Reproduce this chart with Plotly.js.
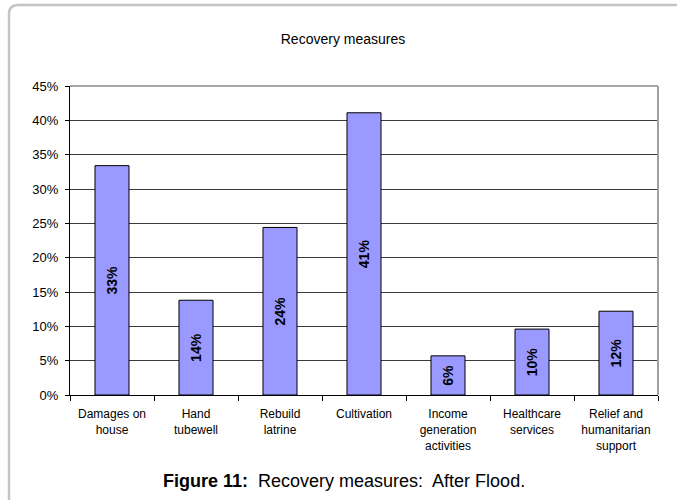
<!DOCTYPE html>
<html>
<head>
<meta charset="utf-8">
<script src="https://cdn.plot.ly/plotly-3.0.1.min.js"></script>
<style>
  html, body { margin: 0; padding: 0; background: #ffffff; }
  #chart { width: 677px; height: 500px; }
</style>
</head>
<body>
<div id="chart"></div>
<script>
// Recovery measures after the flood (share of respondents)
const categories = [
  'Damages on<br>house',
  'Hand<br>tubewell',
  'Rebuild<br>latrine',
  'Cultivation',
  'Income<br>generation<br>activities',
  'Healthcare<br>services',
  'Relief and<br>humanitarian<br>support'
];
const shares = [0.334, 0.138, 0.244, 0.411, 0.057, 0.096, 0.122];
const yTickValues = [0, 0.05, 0.10, 0.15, 0.20, 0.25, 0.30, 0.35, 0.40, 0.45];

const W = 677, H = 500;
const M = { l: 70, r: 19, t: 86, b: 105 };
const plotW = W - M.l - M.r, plotH = H - M.t - M.b;
// pixel position -> paper coordinates, for decorations outside the plot area
const px = x => (x - M.l) / plotW;
const py = y => (H - M.b - y) / plotH;

const font = 'Liberation Sans, Arial, sans-serif';

// rounded frame around the whole figure
const fx0 = 9, fy0 = 5, fr = 9, fx1 = 700, fy1 = 520;
const framePath =
  `M ${px(fx0)} ${py(fy1)} L ${px(fx0)} ${py(fy0 + fr)} ` +
  `Q ${px(fx0)} ${py(fy0)} ${px(fx0 + fr)} ${py(fy0)} ` +
  `L ${px(fx1)} ${py(fy0)}`;

const trace = {
  type: 'bar',
  x: categories,
  y: shares,
  marker: { color: '#9999ff', line: { color: '#000000', width: 1 } },
  text: shares,
  texttemplate: '%{y:.0%}',
  textposition: 'inside',
  insidetextanchor: 'middle',
  textangle: -90,
  textfont: { family: font, size: 14, color: '#000000', weight: 'bold' },
  constraintext: 'none',
  hoverinfo: 'skip'
};

const layout = {
  width: W, height: H,
  margin: M,
  paper_bgcolor: '#ffffff',
  plot_bgcolor: '#ffffff',
  showlegend: false,
  bargap: 0.595,
  font: { family: font, size: 12, color: '#000000' },
  title: {
    text: 'Recovery measures',
    font: { family: font, size: 14, color: '#000000' },
    x: px(343), xref: 'paper', xanchor: 'center',
    y: 1 - 39 / H, yref: 'container', yanchor: 'middle'
  },
  xaxis: {
    type: 'category',
    tickson: 'boundaries',
    ticks: 'outside', ticklen: 5, tickcolor: '#000000',
    showline: true, linecolor: '#000000', linewidth: 1,
    showgrid: false, zeroline: false,
    tickfont: { family: font, size: 12, color: '#000000' },
    ticklabelstandoff: 8,
    automargin: false
  },
  yaxis: {
    range: [0, 0.45],
    tickvals: yTickValues,
    tickformat: '.0%',
    ticks: 'outside', ticklen: 4, tickcolor: '#000000',
    showline: true, linecolor: '#000000', linewidth: 1,
    showgrid: true, gridcolor: '#3a3a3a', gridwidth: 1,
    zeroline: false,
    tickfont: { family: font, size: 13, color: '#000000' },
    ticklabelstandoff: 4,
    automargin: false
  },
  shapes: [
    // top and right edges of the plot area
    { type: 'line', xref: 'paper', yref: 'paper', x0: 0, x1: 1, y0: 1, y1: 1,
      line: { color: '#8a8a8a', width: 1.5 } },
    { type: 'line', xref: 'paper', yref: 'paper', x0: 1, x1: 1, y0: 0, y1: 1,
      line: { color: '#a0a0a0', width: 2 } },
    // outer frame
    { type: 'path', xref: 'paper', yref: 'paper', path: framePath,
      line: { color: '#c4c4c4', width: 2.5 }, layer: 'below' }
  ],
  annotations: [
    {
      xref: 'paper', yref: 'paper',
      x: px(344), y: py(481),
      xanchor: 'center', yanchor: 'middle',
      showarrow: false,
      text: '<b>Figure 11:</b>  Recovery measures:  After Flood.',
      font: { family: font, size: 18, color: '#000000' }
    }
  ]
};

Plotly.newPlot('chart', [trace], layout, { displayModeBar: false, staticPlot: true });
</script>
</body>
</html>
